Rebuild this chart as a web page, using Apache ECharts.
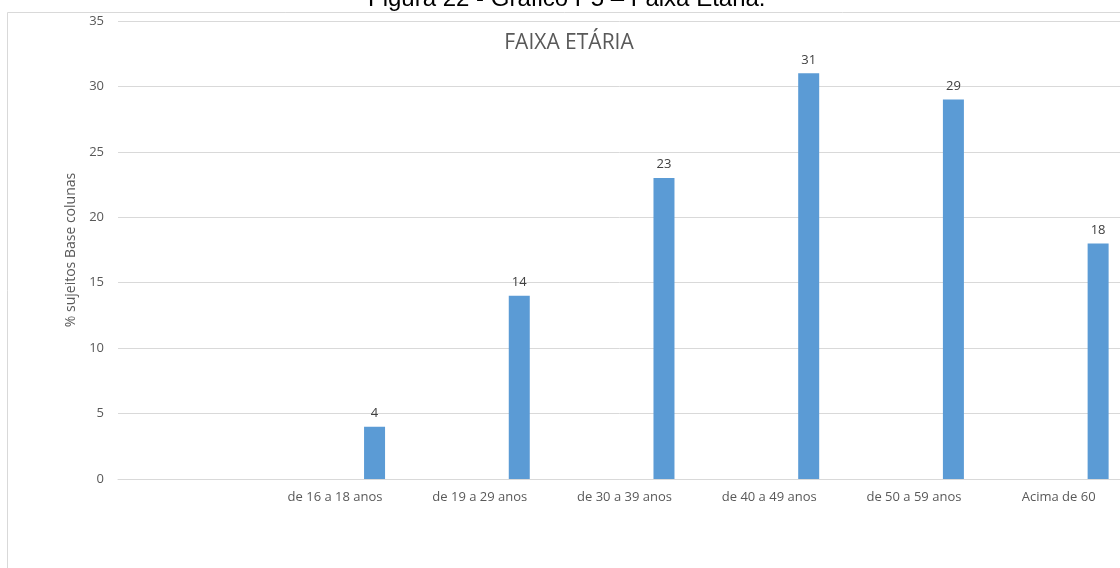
<!DOCTYPE html>
<html>
<head>
<meta charset="utf-8">
<script src="https://cdn.jsdelivr.net/npm/echarts@6/dist/echarts.min.js"></script>
<style>
html,body{margin:0;padding:0;background:#fff;}
#chart{width:1120px;height:568px;}
</style>
</head>
<body>
<div id="chart"></div>
<script>
const categories = ['', 'de 16 a 18 anos', 'de 19 a 29 anos', 'de 30 a 39 anos', 'de 40 a 49 anos', 'de 50 a 59 anos', 'Acima de 60'];
const values = [null, 4, 14, 23, 31, 29, 18];
const emptySeries = [null, null, null, null, null, null, null];
const yTicks = { min: 0, max: 35, interval: 5 };

const chart = echarts.init(document.getElementById('chart'));
const font = '"Open Sans", sans-serif';
chart.setOption({
  animation: false,
  backgroundColor: '#ffffff',
  graphic: [
    { type: 'rect', shape: { x: 7.5, y: 12.5, width: 1200, height: 600 }, style: { fill: 'none', stroke: '#d9d9d9', lineWidth: 1 }, z: -1 },
    { type: 'text', x: 368, y: 11, style: { text: 'Figura 22 - Gráfico P5 – Faixa Etária.', font: '24px "Liberation Sans", Arial, sans-serif', fill: '#000', verticalAlign: 'bottom', textVerticalAlign: 'bottom' } }
  ],
  title: {
    text: 'FAIXA ETÁRIA',
    left: 564, top: 28, textAlign: 'center',
    textStyle: { fontFamily: font, fontSize: 21, fontWeight: 'normal', color: '#595959' }
  },
  grid: { left: 118, top: 21, width: 1013, height: 458, outerBoundsMode: 'none', containLabel: false },
  xAxis: {
    type: 'category',
    data: categories,
    axisLine: { show: true, lineStyle: { color: '#d9d9d9' } },
    axisTick: { show: false },
    axisLabel: { color: '#595959', fontFamily: font, fontSize: 13, margin: 12, interval: 0 },
    splitLine: { show: false }
  },
  yAxis: {
    type: 'value',
    min: yTicks.min, max: yTicks.max, interval: yTicks.interval,
    name: '% sujeitos Base colunas',
    nameLocation: 'middle', nameRotate: 90, nameGap: 31,
    nameTextStyle: { color: '#595959', fontFamily: font, fontSize: 14 },
    axisLine: { show: false }, axisTick: { show: false },
    axisLabel: { color: '#595959', fontFamily: font, fontSize: 13, margin: 14 },
    splitLine: { lineStyle: { color: '#d9d9d9' } }
  },
  series: [
    { type: 'bar', name: 'vazio', data: emptySeries, barWidth: 21, barGap: '276%', silent: true },
    {
      type: 'bar', name: 'Faixa etária', data: values, barWidth: 21, barGap: '276%',
      itemStyle: { color: '#5b9bd5' },
      label: { show: true, position: 'top', distance: 7, color: '#404040', fontFamily: font, fontSize: 13 }
    }
  ]
});
</script>
</body>
</html>
